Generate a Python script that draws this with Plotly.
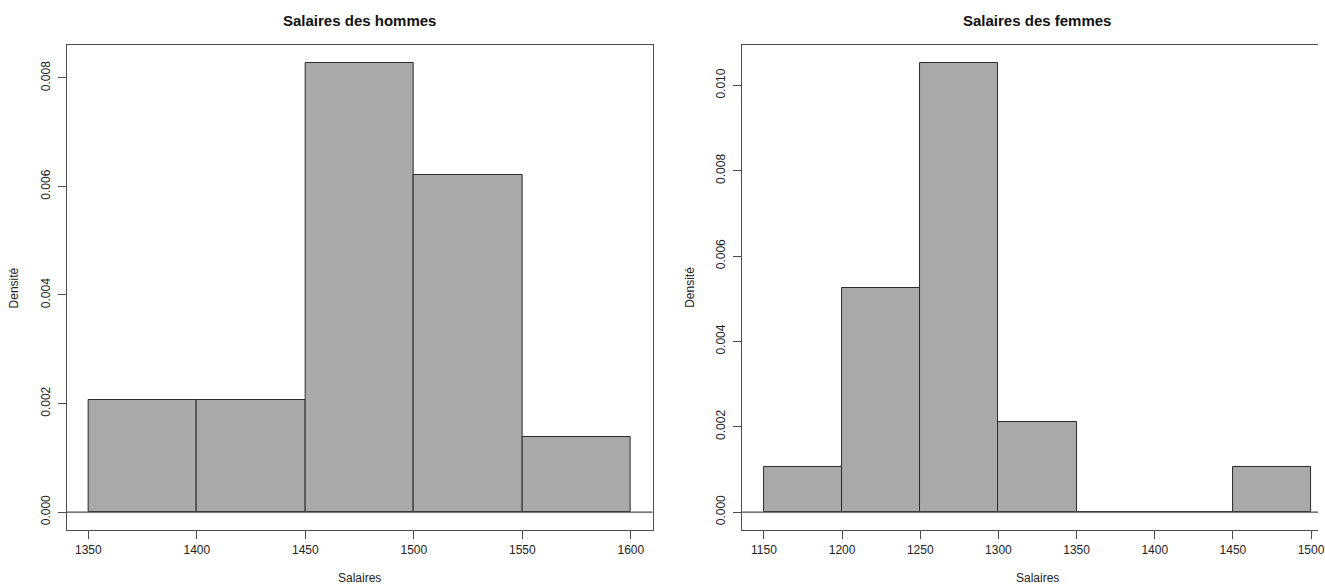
import plotly.graph_objects as go

# ---- data ----
men_edges = [1350, 1400, 1450, 1500, 1550, 1600]
men_density = [0.002069, 0.002069, 0.008276, 0.006207, 0.001379]

women_edges = [1150, 1200, 1250, 1300, 1350, 1400, 1450, 1500]
women_density = [0.001053, 0.005263, 0.010526, 0.002105, 0.0, 0.0, 0.001053]

men_yticks = [0.000, 0.002, 0.004, 0.006, 0.008]
women_yticks = [0.000, 0.002, 0.004, 0.006, 0.008, 0.010]

title_men = "Salaires des hommes"
title_women = "Salaires des femmes"
x_label = "Salaires"
y_label = "Densité"

# ---- layout geometry (pixels) ----
W, H = 1325, 585
left_x0, left_w = 67, 589
right_x0, right_w = 746, 594
top_px, bot_px = 45, 530

FONT = "Liberation Sans, Arial, Helvetica, sans-serif"
LINE = "#4d4d4d"
FILL = "#a9a9a9"


def centers(edges):
    return [(a + b) / 2 for a, b in zip(edges[:-1], edges[1:])]


def padded(lo, hi):
    d = (hi - lo) * 0.04
    return lo - d, hi + d


fig = go.Figure()

fig.add_trace(go.Bar(
    x=centers(men_edges), y=men_density, width=50,
    marker=dict(color=FILL, line=dict(color="#2b2b2b", width=1)),
    xaxis="x", yaxis="y", showlegend=False, hoverinfo="x+y"))

fig.add_trace(go.Bar(
    x=centers(women_edges), y=women_density, width=50,
    marker=dict(color=FILL, line=dict(color="#2b2b2b", width=1)),
    xaxis="x2", yaxis="y2", showlegend=False, hoverinfo="x+y"))

# x ranges
mx0, mx1 = padded(men_edges[0], men_edges[-1])
wx0, wx1_full = padded(women_edges[0], women_edges[-1])
# right panel is cut by the image edge: show only the visible part
visible_frac = (W - right_x0) / right_w
wx1 = wx0 + (wx1_full - wx0) * visible_frac

my0, my1 = padded(0, max(men_density))
wy0, wy1 = padded(0, max(women_density))

ydom = [(H - bot_px) / H, (H - top_px) / H]

common_ax = dict(showgrid=False, zeroline=False, showline=True, linecolor=LINE,
                 linewidth=1.2, ticks="outside", ticklen=8, tickwidth=1,
                 tickcolor=LINE, ticklabeloverflow="allow",
                 tickfont=dict(family=FONT, size=12, color="#222"))

fig.update_layout(
    width=W, height=H,
    margin=dict(l=0, r=0, t=0, b=0),
    paper_bgcolor="white", plot_bgcolor="white",
    bargap=0,
    xaxis=dict(domain=[left_x0 / W, (left_x0 + left_w) / W], range=[mx0, mx1],
               tickvals=men_edges, anchor="y", mirror=True, **common_ax),
    yaxis=dict(domain=ydom, range=[my0, my1], tickvals=men_yticks,
               tickformat=".3f", tickangle=-90, anchor="x", mirror=True,
               ticklabelstandoff=3, **common_ax),
    xaxis2=dict(domain=[right_x0 / W, 1.0], range=[wx0, wx1],
                tickvals=women_edges, anchor="y2", mirror=True, **common_ax),
    yaxis2=dict(domain=ydom, range=[wy0, wy1], tickvals=women_yticks,
                tickformat=".3f", tickangle=-90, anchor="x2", mirror=False,
                ticklabelstandoff=3, **common_ax),
)

# horizontal line at zero across each panel
for xr, yr in (("x domain", "y"), ("x2 domain", "y2")):
    fig.add_shape(type="line", xref=xr, yref=yr, x0=0, x1=1, y0=0, y1=0,
                  line=dict(color=LINE, width=1.2), layer="above")

# titles and axis labels
ann = []
for x0, bw, title in ((left_x0, left_w, title_men), (right_x0, right_w, title_women)):
    cx = (x0 + bw / 2) / W
    ann.append(dict(text="<b>%s</b>" % title, x=cx, y=(H - 21) / H,
                    xref="paper", yref="paper", showarrow=False,
                    xanchor="center", yanchor="middle",
                    font=dict(family=FONT, size=15, color="#111")))
    ann.append(dict(text=x_label, x=cx, y=(H - 578) / H,
                    xref="paper", yref="paper", showarrow=False,
                    xanchor="center", yanchor="middle",
                    font=dict(family=FONT, size=12, color="#222")))
    ann.append(dict(text=y_label, x=(x0 - 53) / W, y=(H - (top_px + bot_px) / 2) / H,
                    xref="paper", yref="paper", showarrow=False, textangle=-90,
                    xanchor="center", yanchor="middle",
                    font=dict(family=FONT, size=12, color="#222")))
fig.update_layout(annotations=ann)

fig.write_html("out.html",
               config={"displayModeBar": False},
               post_script="document.body.style.margin='0';"
                           "document.body.style.overflow='hidden';")
